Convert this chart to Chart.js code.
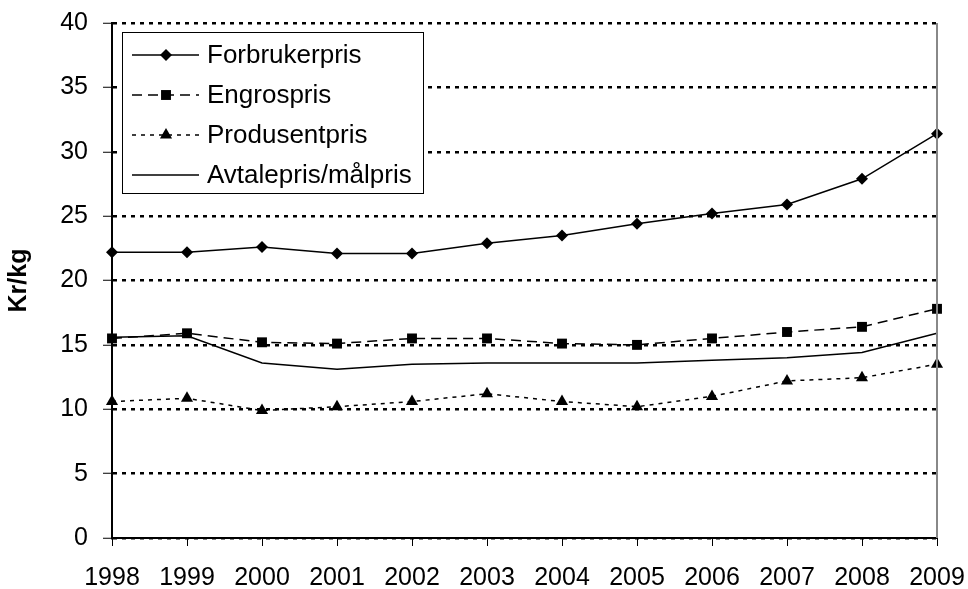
<!DOCTYPE html>
<html>
<head>
<meta charset="utf-8">
<script src="https://cdn.jsdelivr.net/npm/chart.js@4/dist/chart.umd.min.js"></script>
<style>
  html, body { margin:0; padding:0; background:#fff; }
  #wrap { width:968px; height:589px; position:relative; }
</style>
</head>
<body>
<div id="wrap"><canvas id="prisChart"></canvas></div>
<script>
// årstall og priser (kr/kg)
const years = ['1998','1999','2000','2001','2002','2003','2004','2005','2006','2007','2008','2009'];
const forbrukerpris = [22.2, 22.2, 22.6, 22.1, 22.1, 22.9, 23.5, 24.4, 25.2, 25.9, 27.9, 31.4];
const engrospris    = [15.5, 15.9, 15.2, 15.1, 15.5, 15.5, 15.1, 15.0, 15.5, 16.0, 16.4, 17.8];
const produsentpris = [10.6, 10.85, 9.9, 10.2, 10.6, 11.2, 10.6, 10.2, 11.0, 12.2, 12.45, 13.5];
const avtalepris    = [15.6, 15.7, 13.6, 13.1, 13.5, 13.6, 13.6, 13.6, 13.8, 14.0, 14.4, 15.9];
const yTicks = [0, 5, 10, 15, 20, 25, 30, 35, 40];

const FONT = "'Liberation Sans', Arial, sans-serif";
const $ = id => document.getElementById(id);

const series = [
  {label:'Forbrukerpris', data:forbrukerpris, dash:[], marker:'rectRot', r:6},
  {label:'Engrospris', data:engrospris, dash:[10,6], marker:'rect', r:7},
  {label:'Produsentpris', data:produsentpris, dash:[4,5], marker:'triangle', r:7},
  {label:'Avtalepris/målpris', data:avtalepris, dash:[], marker:null, r:0}
];

function marker(ctx, type, x, y, r){
  ctx.beginPath();
  if(type==='rectRot'){ ctx.moveTo(x,y-r); ctx.lineTo(x+r,y); ctx.lineTo(x,y+r); ctx.lineTo(x-r,y); }
  else if(type==='rect'){ const s=r*Math.SQRT1_2; ctx.rect(x-s,y-s,2*s,2*s); }
  else if(type==='triangle'){ ctx.moveTo(x,y-r); ctx.lineTo(x+r*0.866,y+r*0.5); ctx.lineTo(x-r*0.866,y+r*0.5); }
  ctx.closePath(); ctx.fill();
}

// legend inside the plot, top-left, plus the grey right edge
const boxLegend = {
  id:'boxLegend',
  afterDraw(chart){
    const {ctx, chartArea:a} = chart;
    ctx.save();
    ctx.strokeStyle = '#888'; ctx.lineWidth = 2;
    ctx.beginPath(); ctx.moveTo(a.right, a.top); ctx.lineTo(a.right, a.bottom); ctx.stroke();

    const x0 = a.left+10, y0 = a.top+9, w = 301, h = 161;
    ctx.fillStyle = '#fff'; ctx.fillRect(x0, y0, w, h);
    ctx.strokeStyle = '#000'; ctx.lineWidth = 1; ctx.strokeRect(x0+0.5, y0+0.5, w, h);
    ctx.font = '26px ' + FONT; ctx.textBaseline = 'middle'; ctx.textAlign = 'left';
    series.forEach((s,i)=>{
      const y = y0 + 23 + i*40;
      ctx.strokeStyle = '#000'; ctx.lineWidth = 1.5; ctx.setLineDash(s.dash);
      ctx.beginPath(); ctx.moveTo(x0+10, y); ctx.lineTo(x0+77, y); ctx.stroke();
      ctx.setLineDash([]);
      ctx.fillStyle = '#000';
      if(s.marker) marker(ctx, s.marker, x0+44, y, s.r);
      ctx.fillText(s.label, x0+85, y+1);
    });
    ctx.restore();
  }
};

new Chart($('prisChart'), {
  type:'line',
  data:{
    labels: years,
    datasets: series.map(s=>({
      label:s.label, data:s.data,
      borderColor:'#000', backgroundColor:'#000', borderWidth:1.5,
      borderDash:s.dash, tension:0,
      pointStyle:s.marker || 'circle', pointRadius:s.r, pointHoverRadius:s.r,
      pointBorderWidth:0
    }))
  },
  options:{
    responsive:true, maintainAspectRatio:false, animation:false,
    layout:{padding:{top:23, right:31, left:4, bottom:0}},
    plugins:{legend:{display:false}, tooltip:{enabled:false}},
    scales:{
      x:{
        offset:false,
        grid:{drawOnChartArea:false, color:'#000', tickLength:8, lineWidth:1},
        border:{color:'#000', width:2},
        ticks:{color:'#000', font:{family:FONT, size:25}, padding:17, maxRotation:0, autoSkip:false},
        // fixed axis box; the label overhang is covered by layout padding
        afterFit(s){ s.height = 51; s.paddingLeft = 0; s.paddingRight = 0; }
      },
      y:{
        min:0, max:40,
        afterBuildTicks(s){ s.ticks = yTicks.map(v=>({value:v})); },
        grid:{color:'#000', lineWidth:2.5, tickBorderDash:[], tickColor:'#000', tickWidth:1, tickLength:9},
        border:{color:'#000', width:2, dash:[4,5]},
        ticks:{color:'#000', font:{family:FONT, size:25}, padding:15},
        title:{display:true, text:'Kr/kg', color:'#000', font:{family:FONT, size:25, weight:'bold'}, padding:{top:0, bottom:4}},
        afterFit(s){ s.width = 108; s.paddingTop = 0; s.paddingBottom = 0; }
      }
    }
  },
  plugins:[boxLegend]
});
</script>
</body>
</html>
